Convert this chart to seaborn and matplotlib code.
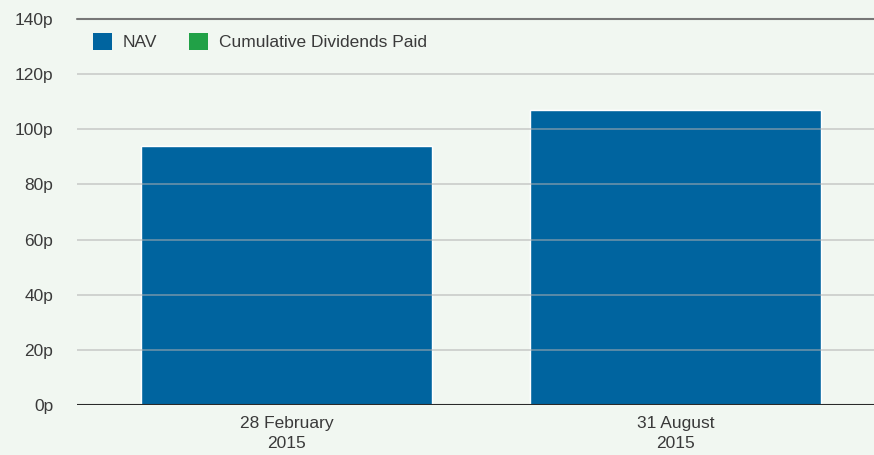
import matplotlib
matplotlib.use("Agg")
import matplotlib.pyplot as plt
from matplotlib.patches import Patch
import pandas as pd
import seaborn as sns

# Chart values
periods = ["28 February\n2015", "31 August\n2015"]
nav = [93.8, 107.0]
dividends = [0.0, 0.0]
y_ticks = [0, 20, 40, 60, 80, 100, 120, 140]

df = pd.DataFrame({"period": periods, "nav": nav, "dividends": dividends})
df["total"] = df["nav"] + df["dividends"]

bg = "#f1f7f1"
blue = "#00649f"
green = "#21a147"

sns.set_theme(style="white")
plt.rcParams["font.family"] = ["Liberation Sans", "DejaVu Sans"]

fig = plt.figure(figsize=(8.74, 4.55), dpi=100, facecolor=bg)
ax = fig.add_axes([0.0881, 0.1099, 0.9119, 0.8483], facecolor=bg)

# stacked: total (green) underneath, NAV (blue) on top
sns.barplot(data=df, x="period", y="total", color=green, width=0.748,
            saturation=1, ax=ax)
sns.barplot(data=df, x="period", y="nav", color=blue, width=0.748,
            saturation=1, ax=ax)

ax.set_xlim(-0.539, 1.509)
ax.set_ylim(0, 140)
ax.set_yticks(y_ticks)
ax.set_yticklabels([f"{v}p" for v in y_ticks])
ax.set_xlabel("")
ax.set_ylabel("")

ax.set_axisbelow(False)
ax.yaxis.grid(True, color="#b0b0b0", alpha=0.55, linewidth=1.3, zorder=3)
ax.axhline(140, color="#777777", linewidth=1.5, zorder=5, clip_on=False)
ax.axhline(0, color="#2a2a2a", linewidth=1.5, zorder=5)

for s in ax.spines.values():
    s.set_visible(False)

ax.tick_params(axis="y", length=0, pad=17, labelsize=12.5, labelcolor="#3a3a3a")
ax.tick_params(axis="x", length=0, pad=8, labelsize=12.5, labelcolor="#3a3a3a")
for lab in ax.get_xticklabels():
    lab.set_linespacing(1.4)

handles = [Patch(facecolor=blue, edgecolor="none", label="NAV"),
           Patch(facecolor=green, edgecolor="none", label="Cumulative Dividends Paid")]
leg = ax.legend(handles=handles, loc="upper left", bbox_to_anchor=(0.005, 0.995),
                ncol=2, frameon=False, fontsize=12.5, handlelength=1.1,
                handleheight=1.1, handletextpad=0.6, columnspacing=1.85,
                borderaxespad=0.3)
for t in leg.get_texts():
    t.set_color("#3a3a3a")

fig.savefig("out.png", dpi=100, facecolor=bg)
